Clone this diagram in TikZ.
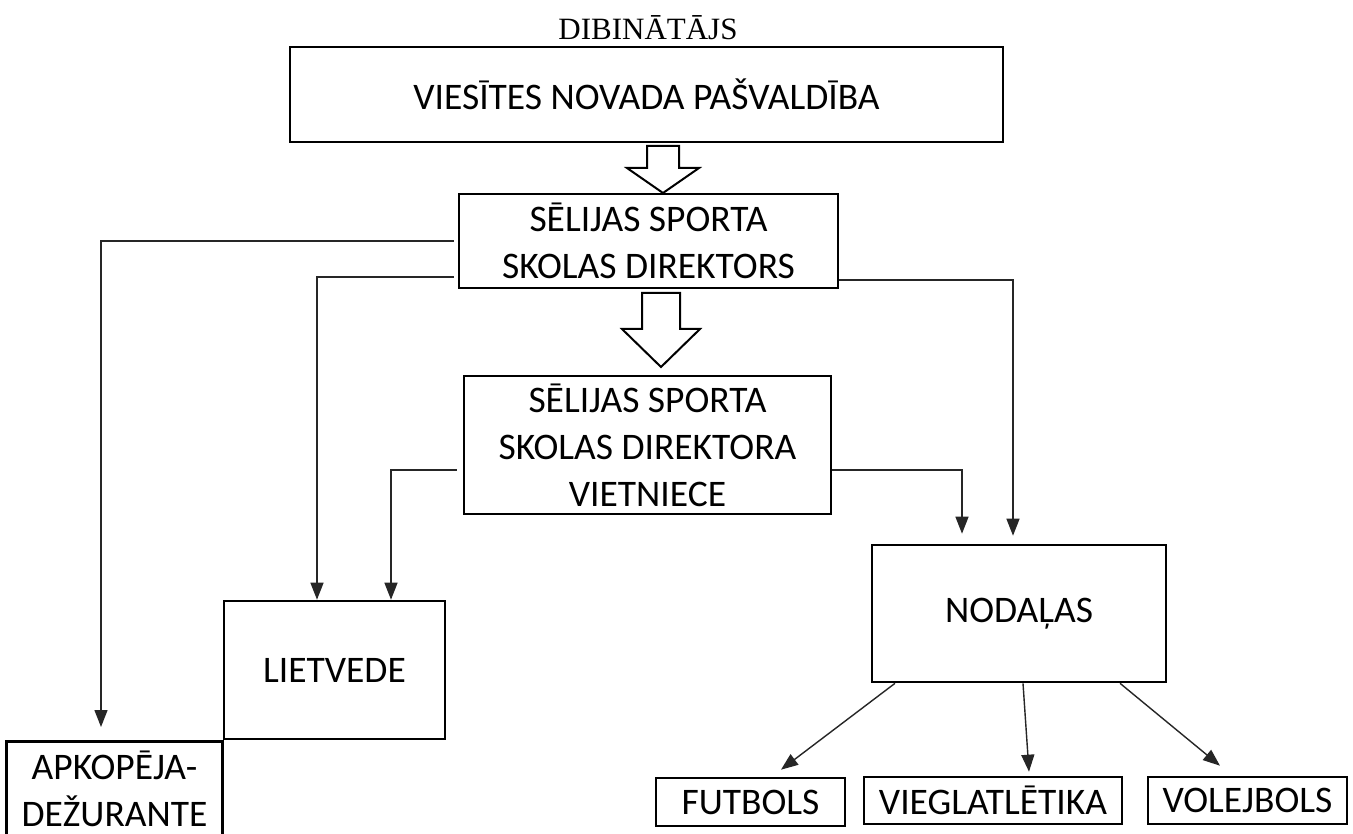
\documentclass[tikz,border=0pt]{standalone}
\usepackage{fontspec}
\setmainfont{Carlito}
\newfontfamily\dibserif{Liberation Serif}
\usetikzlibrary{arrows.meta,calc}
\newcommand{\lblfont}{\fontsize{37.5}{47}\selectfont}
\begin{document}
\begin{tikzpicture}[x=1pt,y=-1pt,
  box/.style={draw, line width=2.6pt, inner sep=0pt, align=center, font=\lblfont},
  conn/.style={line width=1.4pt, draw=black!85, -{Triangle[length=17pt,width=13pt]}},
  hollowarrow/.style={draw, line width=2pt, fill=white, line join=miter}]
\useasboundingbox (0,0) rectangle (1353,834);
\fill[white] (0,0) rectangle (1353,834);

% title
\node[font=\dibserif\fontsize{31}{33}\selectfont] (dib) at (648,28) {DIBINĀTĀJS};

% boxes
\node[box, minimum width=713pt, minimum height=95pt] (top) at (646.5,94.5) {VIESĪTES NOVADA PAŠVALDĪBA};
\node[box, minimum width=379pt, minimum height=94pt] (dir) at (648.5,241) {SĒLIJAS SPORTA\\SKOLAS DIREKTORS};
\node[box, minimum width=367pt, minimum height=138pt] (vice) at (647.5,445) {SĒLIJAS SPORTA\\SKOLAS DIREKTORA\\VIETNIECE};
\node[box, minimum width=221pt, minimum height=138pt] (liet) at (334.5,670) {LIETVEDE};
\node[box, minimum width=294pt, minimum height=137pt] (nod) at (1019,613.5) {NODAĻAS};
\node[box, draw=none, minimum width=213pt, minimum height=91pt] (apk) at (114.5,788.5) {APKOPĒJA-\\DEŽURANTE};
\draw[line width=2.6pt] (apk.south west) |- (apk.north east) -- (apk.south east);
\node[box, minimum width=189pt, minimum height=48pt] (fut) at (750.5,802) {FUTBOLS};
\node[box, minimum width=258pt, minimum height=47pt] (vie) at (993,800.5) {VIEGLATLĒTIKA};
\node[box, minimum width=199pt, minimum height=47pt] (vol) at (1247.5,800.5) {VOLEJBOLS};

% hollow block arrows
\draw[hollowarrow] (647,146) -- (679,146) -- (679,168) -- (699,168) -- (663,193) -- (627,168) -- (647,168) -- cycle;
\draw[hollowarrow] (642,293) -- (680,293) -- (680,329) -- (700,329) -- (661,367) -- (622,329) -- (642,329) -- cycle;

% connector end points
\coordinate (apkIn) at (101,727);

% connectors
\draw[conn] ($(dir.west)+(-4,0)$) -| (apkIn);
\draw[conn] ($(dir.west)+(-4,36)$) -| ($(liet.north)+(-17.5,0)$);
\draw[conn] ($(vice.west)+(-6,25)$) -| ($(liet.north)+(56.5,0)$);
\draw[conn] ($(dir.east)+(0,39)$) -| ($(nod.north)+(-6,-8)$);
\draw[conn] ($(vice.east)+(0,25)$) -| ($(nod.north)+(-57,-10)$);
\draw[conn] ($(nod.south)+(-124,0)$) -- ($(fut.north)+(30.5,-7)$);
\draw[conn] ($(nod.south)+(4,0)$) -- ($(vie.north)+(36,-4)$);
\draw[conn] ($(nod.south)+(101,0)$) -- ($(vol.north)+(-27.5,-10)$);
\end{tikzpicture}
\end{document}
